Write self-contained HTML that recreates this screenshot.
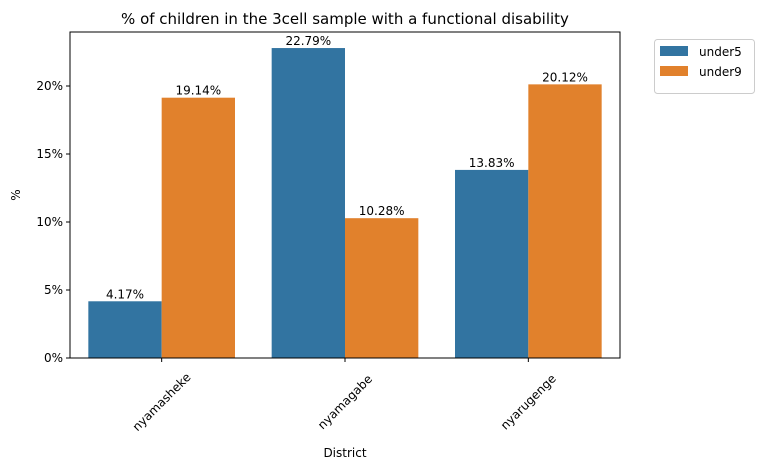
<!DOCTYPE html>
<html><head><meta charset="utf-8"><style>
body{margin:0;background:#fff;}
svg{font-family:"DejaVu Sans","Liberation Sans",sans-serif;}
</style></head><body>
<svg id="chart" width="763" height="470" xmlns="http://www.w3.org/2000/svg">
<rect width="763" height="470" fill="#fff"/>
<text x="345" y="24" text-anchor="middle" font-size="15">% of children in the 3cell sample with a functional disability</text>
<g id="marks"></g>
<rect x="70" y="32" width="550" height="326" fill="none" stroke="#000" stroke-width="1"/>
<text x="20" y="195" text-anchor="middle" font-size="12" transform="rotate(-90 20 195)">%</text>
<text x="345" y="457" text-anchor="middle" font-size="12">District</text>
<g>
<rect x="654.5" y="39.5" width="100" height="54" rx="3" fill="#fff" stroke="#ccc"/>
<rect x="660" y="46" width="28" height="10" fill="#3274a1"/>
<text x="699" y="56" font-size="12">under5</text>
<rect x="660" y="66" width="28" height="10" fill="#e1812c"/>
<text x="699" y="76" font-size="12">under9</text>
</g>
</svg>
<script>
const categories = ["nyamasheke","nyamagabe","nyarugenge"];
const under5 = [4.17, 22.79, 13.83];
const under9 = [19.14, 10.28, 20.12];
const yTicks = [0,5,10,15,20];
const NS="http://www.w3.org/2000/svg";
const L=70,R=620,T=32,B=358,YMAX=23.97;
const y=v=>B-(v/YMAX)*(B-T);
const step=(R-L)/categories.length;
const xc=i=>L+step*(i+0.5);
const bw=step*0.4;
const g=document.getElementById('marks');
function mk(tag,attrs,txt){const e=document.createElementNS(NS,tag);for(const k in attrs)e.setAttribute(k,attrs[k]);if(txt!=null)e.textContent=txt;g.appendChild(e);return e;}
yTicks.forEach(t=>{
  const l=mk('line',{x1:L-4,x2:L,y1:y(t),y2:y(t),stroke:'#000'});
  
  
  const s=mk('text',{x:L-7,y:y(t)+4,'text-anchor':'end','font-size':12},t+'%');
  
  
});
const series=[[under5,'#3274a1','under5',-1],[under9,'#e1812c','under9',0]];
categories.forEach((c,i)=>{
  series.forEach(([vals,col,nm,off])=>{
    const x0=xc(i)+off*bw;
    const r=mk('rect',{x:x0,y:y(vals[i]),width:bw,height:B-y(vals[i]),fill:col});
    
    
    const t=mk('text',{x:x0+bw/2,y:y(vals[i])-3,'text-anchor':'middle','font-size':12},vals[i].toFixed(2)+'%');
    
    
  });
  const tk=mk('line',{x1:xc(i),x2:xc(i),y1:B,y2:B+4,stroke:'#000'});
  
  
  const lx=xc(i),ly=B+44;
  const lb=mk('text',{x:lx,y:ly+4,'text-anchor':'middle','font-size':12,transform:`rotate(-45 ${lx} ${ly})`},c);
  
  
});
</script>
</body></html>
